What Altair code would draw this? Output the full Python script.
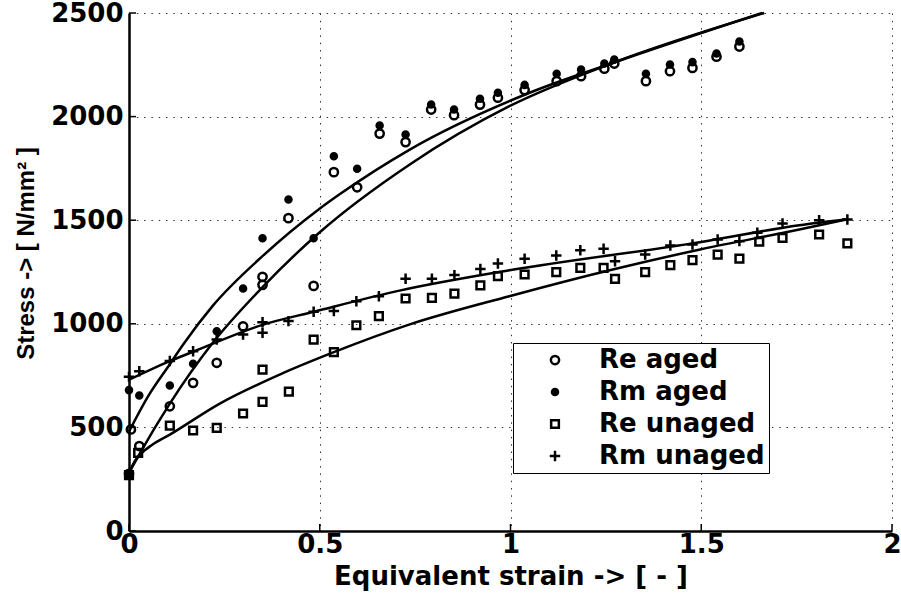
import altair as alt
import pandas as pd

# ---------------- data ----------------
series_order = ["Re aged", "Rm aged", "Re unaged", "Rm unaged"]

re_aged_x = [0, 0.005, 0.027, 0.107, 0.168, 0.23, 0.299, 0.35, 0.35, 0.418, 0.484, 0.537, 0.598,
             0.657, 0.725, 0.792, 0.852, 0.92, 0.967, 1.037, 1.121, 1.185, 1.246, 1.272, 1.355,
             1.418, 1.477, 1.54, 1.6]
re_aged_y = [276, 490, 410, 602, 715, 812, 988, 1227, 1188, 1510, 1183, 1732, 1659,
             1918, 1877, 2034, 2007, 2058, 2091, 2128, 2171, 2195, 2231, 2256, 2171,
             2219, 2235, 2289, 2338]

rm_aged_x = [0, 0, 0.027, 0.107, 0.168, 0.23, 0.299, 0.35, 0.418, 0.484, 0.537, 0.598,
             0.657, 0.725, 0.792, 0.852, 0.92, 0.967, 1.037, 1.121, 1.185, 1.246, 1.272, 1.355,
             1.418, 1.477, 1.54, 1.6]
rm_aged_y = [272, 680, 654, 702, 807, 964, 1170, 1413, 1600, 1413, 1809, 1748,
             1957, 1914, 2058, 2034, 2086, 2115, 2153, 2207, 2227, 2256, 2276, 2207,
             2251, 2263, 2305, 2362]

re_unaged_x = [0, 0.024, 0.107, 0.168, 0.23, 0.299, 0.35, 0.35, 0.419, 0.484, 0.537, 0.596,
               0.655, 0.725, 0.794, 0.853, 0.921, 0.967, 1.037, 1.12, 1.183, 1.244, 1.274,
               1.353, 1.419, 1.477, 1.543, 1.6, 1.652, 1.713, 1.809, 1.883]
re_unaged_y = [270, 377, 509, 485, 498, 567, 623, 779, 673, 924, 863, 993,
               1037, 1122, 1125, 1146, 1185, 1230, 1238, 1249, 1270, 1270, 1217,
               1249, 1283, 1307, 1334, 1315, 1396, 1415, 1431, 1388]

rm_unaged_x = [0, 0.027, 0.107, 0.168, 0.23, 0.299, 0.35, 0.35, 0.418, 0.484, 0.537, 0.596,
               0.655, 0.725, 0.794, 0.853, 0.921, 0.967, 1.037, 1.12, 1.183, 1.244, 1.274,
               1.353, 1.419, 1.477, 1.543, 1.6, 1.647, 1.713, 1.809, 1.883]
rm_unaged_y = [745, 771, 820, 868, 924, 948, 1008, 957, 1013, 1058, 1062, 1109,
               1133, 1217, 1217, 1235, 1265, 1291, 1314, 1330, 1355, 1362, 1302,
               1334, 1378, 1383, 1407, 1399, 1439, 1484, 1500, 1503]

# fitted curves
fit_re_aged_x = [0, 0.03, 0.107, 0.216, 0.35, 0.497, 0.736, 0.997, 1.27, 1.665]
fit_re_aged_y = [281, 380, 615, 900, 1177, 1437, 1769, 2050, 2260, 2500]
fit_rm_aged_x = [0, 0.05, 0.107, 0.142, 0.221, 0.352, 0.497, 0.552, 0.736, 1.05, 1.27, 1.66]
fit_rm_aged_y = [480, 650, 805, 900, 1090, 1330, 1552, 1625, 1841, 2115, 2260, 2500]
fit_re_unaged_x = [0, 0.01, 0.03, 0.06, 0.107, 0.238, 0.395, 0.537, 0.736, 0.997, 1.268, 1.5, 1.757, 1.883]
fit_re_unaged_y = [275, 320, 370, 415, 465, 615, 755, 863, 997, 1133, 1262, 1360, 1455, 1505]
fit_rm_unaged_x = [0, 0.107, 0.168, 0.35, 0.484, 0.709, 0.997, 1.5, 1.757, 1.883]
fit_rm_unaged_y = [730, 820, 865, 995, 1058, 1160, 1258, 1395, 1476, 1505]

x_ticks = [0, 0.5, 1, 1.5, 2]
y_ticks = [0, 500, 1000, 1500, 2000, 2500]

# ---------------- tables ----------------
pts = []
for name, xs, ys in [("Re aged", re_aged_x, re_aged_y), ("Rm aged", rm_aged_x, rm_aged_y),
                     ("Re unaged", re_unaged_x, re_unaged_y), ("Rm unaged", rm_unaged_x, rm_unaged_y)]:
    for a, b in zip(xs, ys):
        pts.append({"series": name, "x": a, "y": b})
points = pd.DataFrame(pts)

crv = []
for name, xs, ys in [("Re aged", fit_re_aged_x, fit_re_aged_y), ("Rm aged", fit_rm_aged_x, fit_rm_aged_y),
                     ("Re unaged", fit_re_unaged_x, fit_re_unaged_y), ("Rm unaged", fit_rm_unaged_x, fit_rm_unaged_y)]:
    for a, b in zip(xs, ys):
        crv.append({"curve": name, "x": a, "y": b})
curves = pd.DataFrame(crv)

W, H = 763, 518
FONT = "DejaVu Sans"

xs_scale = alt.Scale(domain=[0, 2], nice=False, zero=False)
ys_scale = alt.Scale(domain=[0, 2500], nice=False)

x_axis = alt.Axis(values=x_ticks, format="~g", grid=True, gridDash=[1.5, 5.8], gridColor="#333",
                  gridWidth=1, tickSize=0, domainColor="black", domainWidth=2.5,
                  labelFont=FONT, labelFontWeight="bold", labelFontSize=26, labelColor="black",
                  labelPadding=0, labelFlush=False,
                  title="Equivalent strain -> [ - ]", titleFont=FONT, titleFontWeight="bold",
                  titleFontSize=26, titleColor="black", titleBaseline="alphabetic", titleY=53)
y_axis = alt.Axis(values=y_ticks, format="d", grid=True, gridDash=[1.5, 5.8], gridColor="#333",
                  gridWidth=1, tickSize=0, domainColor="black", domainWidth=2.5,
                  labelFont=FONT, labelFontWeight="bold", labelFontSize=26, labelColor="black",
                  labelPadding=6, labelFlush=False,
                  title="Stress -> [ N/mm\u00b2 ]", titleFont="Liberation Sans", titleFontWeight="bold",
                  titleFontSize=24, titleColor="black", titleBaseline="alphabetic",
                  titleX=-96, titleY=240, titleAngle=270)

X = alt.X("x:Q", scale=xs_scale, axis=x_axis)
Y = alt.Y("y:Q", scale=ys_scale, axis=y_axis)

OPEN_CIRCLE = "M0.75,0A0.75,0.75,0,1,1,-0.75,0A0.75,0.75,0,1,1,0.75,0Z"
DOT = "M0.55,0A0.55,0.55,0,1,1,-0.55,0A0.55,0.55,0,1,1,0.55,0Z"
SQUARE = "M-0.7,-0.7H0.7V0.7H-0.7Z"
PLUS = "M-0.95,0H0.95M0,-0.95V0.95"

legend = alt.Legend(title=None, orient="none", legendX=384, legendY=330,
                    fillColor="white", strokeColor="black", padding=4,
                    symbolOffset=25, labelOffset=31, rowPadding=6,
                    labelFont=FONT, labelFontWeight="bold", labelFontSize=26, labelColor="black",
                    labelLimit=400,
                    symbolSize=121, symbolStrokeWidth=2.5,
                    labelExpr="datum.label + '  '")

points_layer = alt.Chart(points).mark_point(filled=True, strokeWidth=2.5,
                                            opacity=1, size=121).encode(
    x=X, y=Y,
    shape=alt.Shape("series:N", scale=alt.Scale(domain=series_order,
                                                range=[OPEN_CIRCLE, DOT, SQUARE, PLUS]), legend=legend),
    fill=alt.Fill("series:N", scale=alt.Scale(domain=series_order,
                                              range=["transparent", "black", "transparent", "transparent"]),
                  legend=legend),
    stroke=alt.Stroke("series:N", scale=alt.Scale(domain=series_order,
                                                  range=["black", "black", "black", "black"]),
                      legend=legend),
)

lines_layer = alt.Chart(curves).mark_line(color="black", strokeWidth=2.5, interpolate="monotone").encode(
    x=X, y=Y, detail="curve:N"
)

xt = alt.Chart(pd.DataFrame({"x": x_ticks})).mark_rule(color="black", strokeWidth=1.5).encode(
    x=X, y=alt.value(H), y2=alt.value(H - 7))
yt = alt.Chart(pd.DataFrame({"y": y_ticks})).mark_rule(color="black", strokeWidth=1.5).encode(
    y=Y, x=alt.value(0), x2=alt.value(7))

chart = alt.layer(lines_layer, points_layer, xt, yt).properties(
    width=W, height=H,
    autosize=alt.AutoSizeParams(type="none"),
    padding={"left": 129, "top": 13, "right": 9, "bottom": 65},
    background="white",
).configure_view(stroke="transparent")

chart.save("out.html", embed_options={"renderer": "svg", "actions": False})
